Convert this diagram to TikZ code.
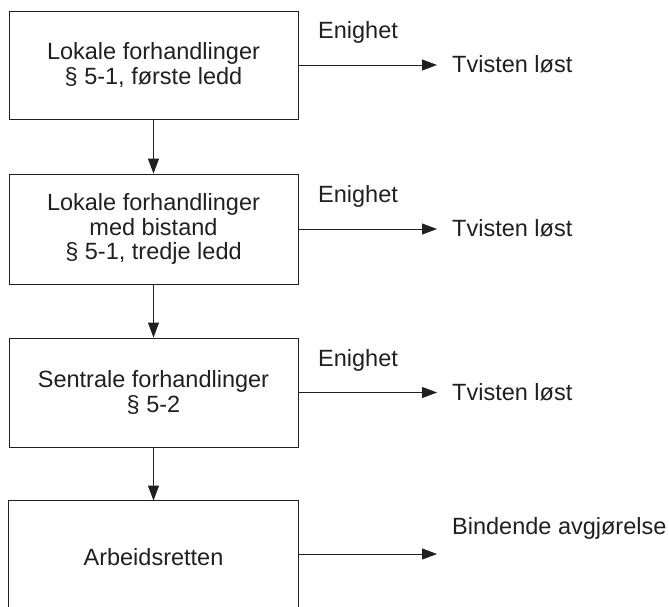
\documentclass[tikz,border=0pt]{standalone}
\usepackage{fontspec}
\setmainfont{Liberation Sans}
\usetikzlibrary{arrows.meta}
\definecolor{ink}{RGB}{35,31,32}
\begin{document}
\begin{tikzpicture}[x=1pt,y=-1pt,
  every node/.style={text=ink, font=\fontsize{23.5}{24.7}\selectfont},
  stepbox/.style={draw=ink, line width=0.9pt, minimum width=289pt, minimum height=108pt, inner sep=0pt, align=center},
  lbl/.style={anchor=base west, inner sep=0pt},
  conn/.style={draw=ink, line width=0.9pt, -{Triangle[width=11pt,length=15pt]}}]
\useasboundingbox (0,0) rectangle (669,606);
\node[stepbox] (box1) at (153.5,65) {Lokale forhandlinger\\\S\ 5-1, første ledd};
\node[stepbox, minimum height=110pt] (box2) at (153.5,229) {Lokale forhandlinger\\med bistand\\\S\ 5-1, tredje ledd};
\node[stepbox, minimum height=109pt] (box3) at (153.5,392.5) {Sentrale forhandlinger\\\S\ 5-2};
\node[stepbox, draw=none, minimum height=112pt] (box4) at (153.5,557) {Arbeidsretten};
\draw[draw=ink, line width=0.9pt] (box4.south west) -- (box4.north west) -- (box4.north east) -- (box4.south east);

\node[lbl] (en1) at (318,38) {Enighet};
\node[lbl] (en2) at (318,202) {Enighet};
\node[lbl] (en3) at (318,366) {Enighet};
\node[lbl] (res1) at (452,72.5) {Tvisten løst};
\node[lbl] (res2) at (452,236.5) {Tvisten løst};
\node[lbl] (res3) at (452,400.5) {Tvisten løst};
\node[lbl] (res4) at (452,534) {Bindende avgjørelse};
\coordinate (h4) at (298,554);

\draw[conn] (box1.south) -- (box2.north);
\draw[conn] (box2.south) -- (box3.north);
\draw[conn] (box3.south) -- (box4.north);
\draw[conn, shorten >=15pt] (box1.east) -- (box1.east -| res1.west);
\draw[conn, shorten >=15pt] (box2.east) -- (box2.east -| res2.west);
\draw[conn, shorten >=15pt] (box3.east) -- (box3.east -| res3.west);
\draw[conn, shorten >=15pt] (h4) -- (h4 -| res4.west);
\end{tikzpicture}
\end{document}
